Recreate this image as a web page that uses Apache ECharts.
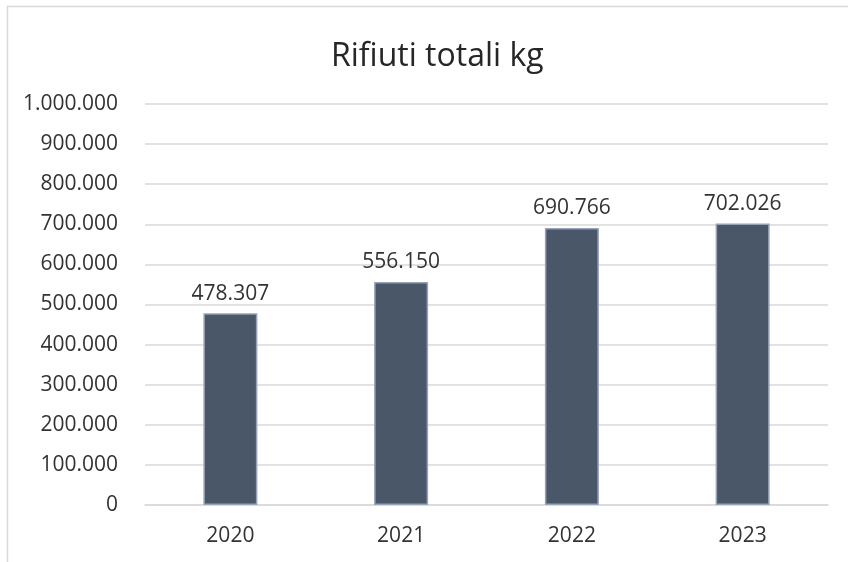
<!DOCTYPE html>
<html><head><meta charset="utf-8">
<script src="https://cdn.jsdelivr.net/npm/echarts@6/dist/echarts.min.js"></script>
<style>html,body{margin:0;padding:0;background:#fff}#c{width:848px;height:562px}</style>
</head><body><div id="c"></div>
<script>
const categories = ['2020','2021','2022','2023'];
const values = [478307, 556150, 690766, 702026];
const titleText = 'Rifiuti totali kg';

function fmt(v){ return String(Math.round(v)).replace(/\B(?=(\d{3})+(?!\d))/g, '.'); }

const F = 'Open Sans';
const chart = echarts.init(document.getElementById('c'), null, {renderer:'canvas'});
chart.setOption({
  animation:false,
  backgroundColor:'#fff',
  textStyle:{fontFamily:F},
  graphic:[{type:'rect', shape:{x:7.5,y:6.5,width:900,height:700}, style:{fill:'none', stroke:'#d9d9d9', lineWidth:1.5}, silent:true}],
  title:{text:titleText, left:326, top:36, textStyle:{fontFamily:F, fontSize:32, fontWeight:'normal', color:'#262626'}},
  grid:{left:145, right:20, top:104, bottom:57},
  xAxis:{type:'category', data:categories,
    axisLine:{lineStyle:{color:'#d9d9d9', width:1.5}}, axisTick:{show:false},
    axisLabel:{color:'#333', fontSize:21, margin:21, fontFamily:F}},
  yAxis:{type:'value', min:0, max:1000000, interval:100000,
    axisLine:{show:false}, axisTick:{show:false},
    splitLine:{lineStyle:{color:'#d9d9d9', width:1.5}},
    axisLabel:{color:'#333', fontSize:21, margin:27, fontFamily:F, formatter:fmt}},
  series:[{type:'bar', data:values, barWidth:54,
    itemStyle:{color:'#4a5769', borderColor:'#94a3b8', borderWidth:1.5},
    label:{show:true, position:'top', distance:9, fontSize:21, color:'#333', fontFamily:F, formatter:p=>fmt(p.value)}}]
});
</script></body></html>
